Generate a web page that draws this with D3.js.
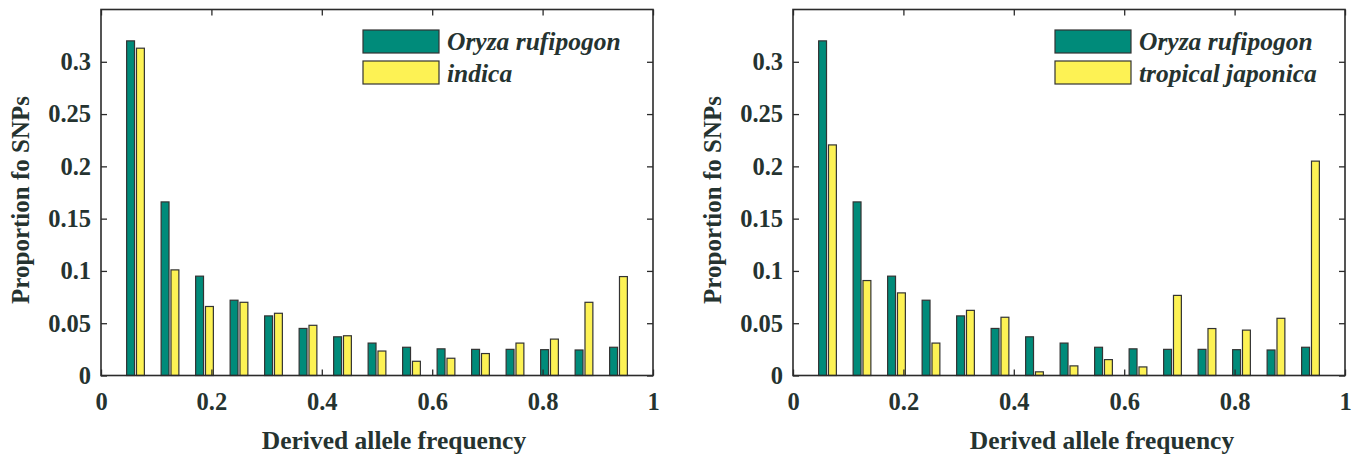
<!DOCTYPE html>
<html>
<head>
<meta charset="utf-8">
<script src="https://cdn.jsdelivr.net/npm/d3@7"></script>
<style>
  body { margin: 0; background: #fff; }
  text { font-family: "Liberation Serif", "Times New Roman", serif; fill: #253330; }
</style>
</head>
<body>
<div id="chart"></div>
<script>
// bin centres (k/16) and proportions
const bins = d3.range(1, 16).map(k => k / 16);
const rufipogon = [0.320, 0.166, 0.095, 0.072, 0.057, 0.045, 0.037, 0.031, 0.027, 0.0255, 0.025, 0.025, 0.0247, 0.0244, 0.027];
const indica = [0.313, 0.101, 0.066, 0.070, 0.0595, 0.048, 0.038, 0.0234, 0.0136, 0.0165, 0.021, 0.031, 0.0348, 0.070, 0.0946];
const tropJaponica = [0.2205, 0.0908, 0.079, 0.031, 0.0623, 0.0557, 0.0035, 0.0092, 0.0152, 0.0082, 0.0766, 0.0449, 0.0434, 0.0547, 0.205];
const xTicks = [0, 0.2, 0.4, 0.6, 0.8, 1];
const yTicks = [0, 0.05, 0.1, 0.15, 0.2, 0.25, 0.3];

const panels = [
  { left: 101, series: [rufipogon, indica], names: ['Oryza rufipogon', 'indica'], legendX: 363, xlabX: 394 },
  { left: 793, series: [rufipogon, tropJaponica], names: ['Oryza rufipogon', 'tropical japonica'], legendX: 1055, xlabX: 1102 }
];
const colors = ['#008b7a', '#fdf254'];

const W = 1357, H = 458;
const yTop = 9.5, yBot = 375.5, pw = 552;

const svg = d3.select('#chart').append('svg')
  .attr('width', W).attr('height', H);

panels.forEach(p => {
  const x = d3.scaleLinear().domain([0, 1]).range([p.left, p.left + pw]);
  const y = d3.scaleLinear().domain([0, 0.35]).range([yBot, yTop]);
  const g = svg.append('g');

  // grouped bars, matlab style: group width 0.571 of spacing, bar 0.8 of slot
  const spacing = 1 / 16;
  const slot = spacing * (2 / 3.5) / 2;
  const bw = slot * 0.8;
  p.series.forEach((vals, s) => {
    g.selectAll(null)
      .data(vals)
      .enter()
      .append('rect')
      .attr('x', (d, i) => x(bins[i] + (s - 0.5) * slot - bw / 2))
      .attr('width', x(bw) - x(0))
      .attr('y', d => y(d))
      .attr('height', d => y(0) - y(d))
      .attr('fill', colors[s])
      .attr('stroke', '#333')
      .attr('stroke-width', 1.2);
  });

  // axes with inward ticks on all four sides
  const ax = [
    { a: d3.axisBottom(x).tickValues(xTicks).tickFormat(d3.format('~g')).tickPadding(17), t: `translate(0,${yBot})` },
    { a: d3.axisTop(x).tickValues(xTicks).tickFormat(''), t: `translate(0,${yTop})` },
    { a: d3.axisLeft(y).tickValues(yTicks).tickFormat(d3.format('~g')).tickPadding(10), t: `translate(${p.left},0)` },
    { a: d3.axisRight(y).tickValues(yTicks).tickFormat(''), t: `translate(${p.left + pw},0)` }
  ];
  ax.forEach(o => {
    const ag = g.append('g')
      .attr('transform', o.t)
      .call(o.a.tickSizeInner(-6).tickSizeOuter(0));
    ag.select('.domain').remove();
    ag.selectAll('line').attr('stroke', '#2b2b2b').attr('stroke-width', 1.3);
    ag.selectAll('text')
      .style('font-size', '24.5px')
      .style('font-weight', 'bold')
      .attr('fill', '#253330');
  });

  g.append('rect')
    .attr('x', p.left).attr('y', yTop)
    .attr('width', pw).attr('height', yBot - yTop)
    .attr('fill', 'none')
    .attr('stroke', '#2b2b2b')
    .attr('stroke-width', 1.6);

  g.append('text')
    .attr('x', p.xlabX)
    .attr('y', 449)
    .attr('text-anchor', 'middle')
    .style('font-size', '25.5px')
    .style('font-weight', 'bold')
    .attr('fill', '#111')
    .text('Derived allele frequency');

  g.append('text')
    .attr('transform', `translate(${p.left - 72},200) rotate(-90)`)
    .attr('text-anchor', 'middle')
    .style('font-size', '25px')
    .style('font-weight', 'bold')
    .text('Proportion fo SNPs');

  // legend
  const lg = g.append('g');
  p.names.forEach((n, s) => {
    lg.append('rect')
      .attr('x', p.legendX).attr('y', 30 + s * 31)
      .attr('width', 76).attr('height', 23)
      .attr('fill', colors[s])
      .attr('stroke', '#333')
      .attr('stroke-width', 1.2);
    lg.append('text')
      .attr('x', p.legendX + 84).attr('y', 50 + s * 31.5)
      .style('font-size', '25.5px')
      .style('font-style', 'italic')
      .style('font-weight', 'bold')
      .text(n);
  });
});
</script>
</body>
</html>
